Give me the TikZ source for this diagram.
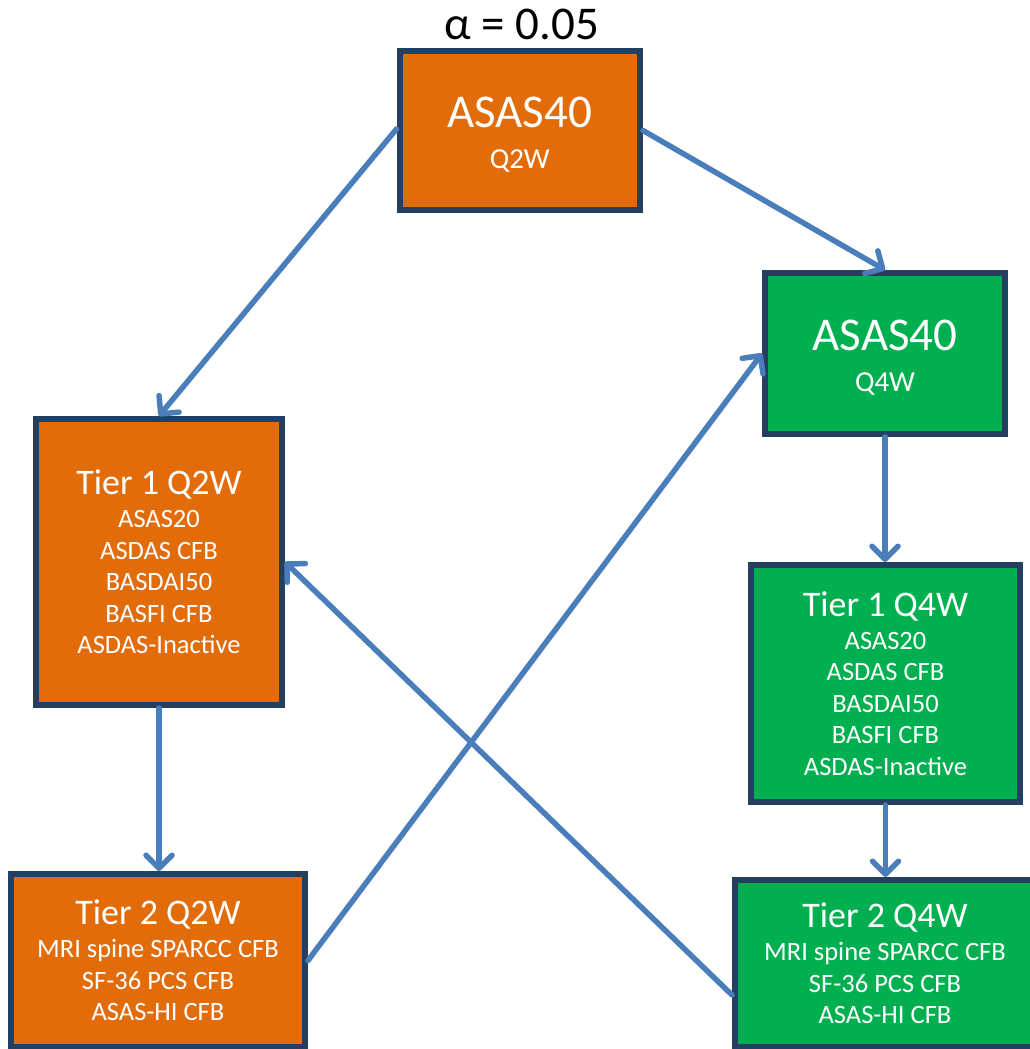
\documentclass[tikz,border=0pt]{standalone}
\usepackage{fontspec}
\setmainfont{Carlito}
\usetikzlibrary{arrows.meta}
\definecolor{orng}{HTML}{E26C0A}
\definecolor{grn}{HTML}{00B050}
\definecolor{bordc}{HTML}{243F60}
\definecolor{arrc}{HTML}{4A7EBB}
\newcommand{\bigtitle}[1]{{\fontsize{47}{50}\selectfont\rule{0pt}{38.5pt}#1}}
\newcommand{\tiertitle}[1]{{\fontsize{36}{40}\selectfont #1}}
\begin{document}
\begin{tikzpicture}[x=1pt,y=-1pt,
  box/.style={draw=bordc, line width=6pt, inner sep=0pt, align=center, text=white},
  orangebox/.style={box, fill=orng},
  greenbox/.style={box, fill=grn},
  itemfont/.style={font=\fontsize{26.5}{31.5}\selectfont},
  headfont/.style={font=\fontsize{29}{41.5}\selectfont},
  conn/.style={draw=arrc, line width=5.5pt, line cap=round,
    -{Straight Barb[length=13pt,width=26pt,round]}}]
\useasboundingbox (0,0) rectangle (1029,1049);

\node[font=\fontsize{47}{50}\selectfont, text=black] (alpha) at (522,24) {α = 0.05};

\node[orangebox, headfont, minimum width=240.5pt, minimum height=159pt] (b1) at (519.75,130.5)
  {\bigtitle{ASAS40}\\Q2W};
\node[greenbox, headfont, minimum width=240pt, minimum height=161pt] (b2) at (885,353.5)
  {\bigtitle{ASAS40}\\Q4W};
\node[orangebox, itemfont, minimum width=246pt, minimum height=286pt] (b3) at (159,562)
  {\tiertitle{Tier 1 Q2W}\\[1.5pt]ASAS20\\ASDAS CFB\\BASDAI50\\BASFI CFB\\ASDAS-Inactive};
\node[greenbox, itemfont, minimum width=269pt, minimum height=237pt] (b4) at (885.5,683.5)
  {\tiertitle{Tier 1 Q4W}\\[1.5pt]ASAS20\\ASDAS CFB\\BASDAI50\\BASFI CFB\\ASDAS-Inactive};
\node[orangebox, itemfont, minimum width=294pt, minimum height=173pt] (b5) at (158,960.5)
  {\tiertitle{Tier 2 Q2W}\\[1.5pt]MRI spine SPARCC CFB\\SF-36 PCS CFB\\ASAS-HI CFB};
\node[greenbox, itemfont, minimum width=300pt, minimum height=167pt] (b6) at (885,963.5)
  {\tiertitle{Tier 2 Q4W}\\[1.5pt]MRI spine SPARCC CFB\\SF-36 PCS CFB\\ASAS-HI CFB};

\draw[conn] ([yshift=1.5pt]b1.west) -- (b3.north);
\draw[conn] (b1.east) -- (b2.north);
\draw[conn] (b2.south) -- (b2.south |- b4.north);
\draw[conn] (b3.south) -- (b3.south |- b5.north);
\draw[conn] (b4.south) -- (b4.south |- b6.north);
\draw[conn] (b5.east) -- (b2.west);
\draw[conn] ([yshift=-31.5pt]b6.west) -- (b3.east);
\end{tikzpicture}
\end{document}
